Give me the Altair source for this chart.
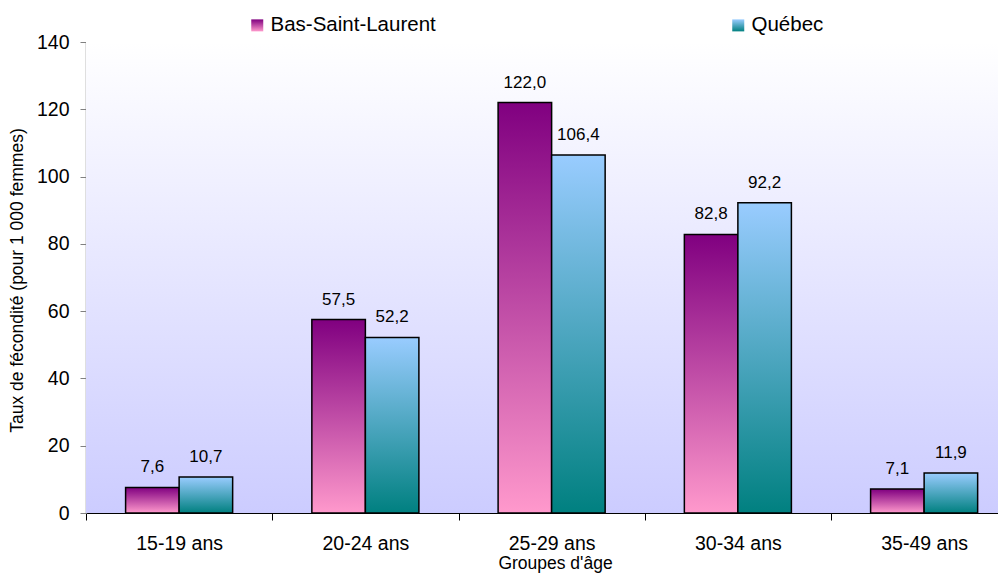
import altair as alt
import pandas as pd

groups = ["15-19 ans", "20-24 ans", "25-29 ans", "30-34 ans", "35-49 ans"]
series = ["Bas-Saint-Laurent", "Québec"]
bsl = [7.6, 57.5, 122.0, 82.8, 7.1]
qc = [10.7, 52.2, 106.4, 92.2, 11.9]
y_ticks = [0, 20, 40, 60, 80, 100, 120, 140]

rows = []
for g, v in zip(groups, bsl):
    rows.append({"group": g, "series": series[0], "value": v})
for g, v in zip(groups, qc):
    rows.append({"group": g, "series": series[1], "value": v})
df = pd.DataFrame(rows)
df["label"] = df["value"].map(lambda v: f"{v:.1f}".replace(".", ","))


def grad(top, bottom):
    return {"gradient": "linear", "x1": 0, "y1": 0, "x2": 0, "y2": 1,
            "stops": [{"offset": 0, "color": top}, {"offset": 1, "color": bottom}]}


g_bsl = grad("#800080", "#ff99cc")
g_qc = grad("#99ccff", "#008080")
g_bg = grad("#ffffff", "#ccccff")

W, H = 912, 471

x_enc = alt.X("group:N", sort=groups,
              scale=alt.Scale(range=[0, 931.25], paddingInner=0, paddingOuter=0),
              axis=alt.Axis(tickBand="extent", tickSize=7, tickColor="black", tickWidth=1,
                            domainColor="black", domainWidth=1, labelFontSize=19.5,
                            labelPadding=29, labelBaseline="alphabetic", labelAngle=0,
                            labelColor="black", title="Groupes d'âge", titleFontSize=17.5,
                            titleFontWeight="normal", titleColor="black", titleX=469,
                            titleY=55, titleBaseline="alphabetic"))
xo_enc = alt.XOffset("series:N", sort=series,
                     scale=alt.Scale(domain=series, paddingInner=0, paddingOuter=0.74))
y_enc = alt.Y("value:Q", scale=alt.Scale(domain=[0, 140], nice=False, zero=True),
              axis=alt.Axis(values=y_ticks, grid=False, domainColor="#808080", domainWidth=1.5,
                            tickColor="#808080", tickSize=6, tickWidth=1, labelFontSize=19.5,
                            labelPadding=11, labelColor="black",
                            title="Taux de fécondité (pour 1 000 femmes)", titleFontSize=17.5,
                            titleFontWeight="normal", titleColor="black", titleAngle=270,
                            titleX=-64, titleY=238, titleBaseline="alphabetic"))

bg = alt.Chart(pd.DataFrame({"a": [0]})).mark_rect(color=g_bg).encode(
    x=alt.value(0), x2=alt.value("width"), y=alt.value(0), y2=alt.value("height"))

base = alt.Chart(df).encode(x=x_enc, xOffset=xo_enc)

sig = ("datum.index === 0 ? {gradient: 'linear', x1: 0, y1: 0, x2: 0, y2: 1, stops: "
       "[{offset: 0, color: '#800080'}, {offset: 1, color: '#ff99cc'}]} : "
       "{gradient: 'linear', x1: 0, y1: 0, x2: 0, y2: 1, stops: "
       "[{offset: 0, color: '#99ccff'}, {offset: 1, color: '#008080'}]}")

legend_pts = base.mark_point(shape="square", filled=True, fill={"expr": sig},
                             stroke="black", strokeWidth=1, opacity=0, size=144).encode(
    y=y_enc,
    shape=alt.Shape("series:N", sort=series,
                    scale=alt.Scale(domain=series, range=["square", "square"]),
                    legend=alt.Legend(orient="none", legendX=161, legendY=-27,
                                      direction="horizontal", columns=2, columnPadding=292,
                                      title=None, symbolSize=144, symbolOpacity=1,
                                      symbolStrokeColor="black", symbolStrokeWidth=1,
                                      labelFontSize=20.5, labelOffset=3, labelLimit=400,
                                      labelColor="black", padding=0)),
)

bars = base.mark_bar(stroke="black", strokeWidth=1.5).encode(
    y=alt.Y("value:Q"),
    fill=alt.condition(alt.datum.series == series[0], alt.value(g_bsl), alt.value(g_qc)),
)

text = base.mark_text(dy=-15, baseline="alphabetic", fontSize=17, color="black").encode(
    y=alt.Y("value:Q"), text="label:N")

chart = alt.layer(bg, legend_pts, bars, text).properties(
    width=W, height=H,
    autosize=alt.AutoSizeParams(type="none"),
    padding={"left": 78, "top": 34, "right": 0, "bottom": 60},
).configure(font="Liberation Sans").configure_view(stroke=None)

chart.save("out.html", embed_options={"renderer": "svg", "actions": False})
